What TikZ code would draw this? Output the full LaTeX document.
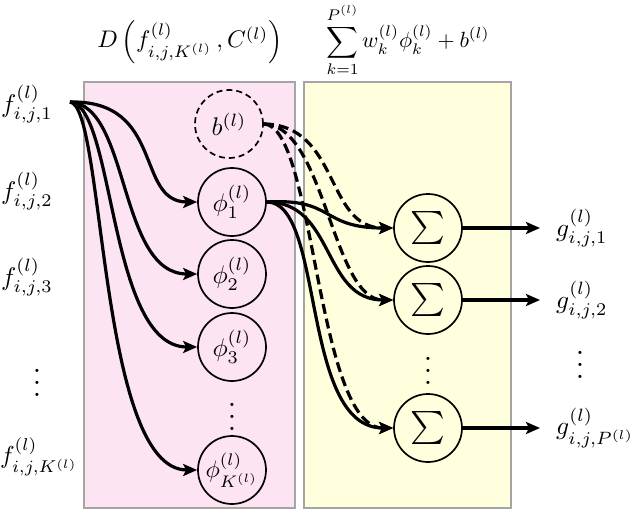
\documentclass[tikz,border=0pt]{standalone}
\usepackage{graphicx}
\usepackage{amsmath}
\usetikzlibrary{arrows.meta}
\definecolor{pinkbg}{RGB}{252,228,242}
\definecolor{yellowbg}{RGB}{255,255,221}
\definecolor{boxline}{RGB}{165,165,165}
\newcommand{\Lg}[1]{\scalebox{2.55}{$#1$}}
\newcommand{\Sg}{\scalebox{3.3}{$\sum$}}
\newcommand{\Dt}{\scalebox{3}{$\boldsymbol{\vdots}$}}
\begin{document}
\begin{tikzpicture}[x=1pt,y=-1pt,
  lbl/.style={inner sep=0pt},
  unit/.style={circle, draw, line width=1.7pt, minimum size=68pt, inner sep=0pt},
  panel/.style={draw=boxline, line width=2pt},
  conn/.style={line width=3.2pt, -{Stealth[length=14pt,width=12pt,inset=3pt]}},
  dconn/.style={conn, dash pattern=on 10pt off 5pt},
  dotsn/.style={inner sep=0pt}]
\useasboundingbox (0,0) rectangle (640,511);
% panels
\fill[pinkbg] (84,82) rectangle (295,508);
\draw[panel] (84,82) rectangle (295,508);
\fill[yellowbg] (304,82) rectangle (511,508);
\draw[panel] (304,82) rectangle (511,508);
% titles
\node[lbl] (tD) at (190,42) {\scalebox{2.4}{$D\left(f^{(l)}_{i,j,K^{(l)}}\,,C^{(l)}\right)$}};
\node[lbl] (tS) at (408,40) {\scalebox{2.2}{$\displaystyle\sum_{k=1}^{P^{(l)}} w_k^{(l)}\phi_k^{(l)}+b^{(l)}$}};
% inputs
\node[lbl] (f1) at (27,104) {\Lg{f^{(l)}_{i,j,1}}};
\node[lbl] (f2) at (27,191) {\Lg{f^{(l)}_{i,j,2}}};
\node[lbl] (f3) at (27,277) {\Lg{f^{(l)}_{i,j,3}}};
\node[dotsn] (fd) at (37,374) {\Dt};
\node[lbl] (fK) at (39,457) {\scalebox{2.45}{$f^{(l)}_{i,j,K^{(l)}}$}};
\coordinate (fs) at (70,102);
% units
\node[unit, dash pattern=on 6pt off 4pt] (b) at (229,124) {\Lg{b^{(l)}}};
\node[unit] (p1) at (232,202) {\Lg{\phi_1^{(l)}}};
\node[unit] (p2) at (232,274) {\Lg{\phi_2^{(l)}}};
\node[unit] (p3) at (232,347) {\Lg{\phi_3^{(l)}}};
\node[dotsn] (pd) at (232,408) {\Dt};
\node[unit] (pK) at (232,470) {\scalebox{2.4}{$\phi_{K^{(l)}}^{(l)}$}};
% sums
\node[unit] (s1) at (428,228) {\Sg};
\node[unit] (s2) at (428,300) {\Sg};
\node[dotsn] (sd) at (428,362) {\Dt};
\node[unit] (s3) at (428,428) {\Sg};
% outputs
\node[lbl, anchor=west] (g1) at (556,228) {\Lg{g^{(l)}_{i,j,1}}};
\node[lbl, anchor=west] (g2) at (556,300) {\Lg{g^{(l)}_{i,j,2}}};
\node[dotsn] (gd) at (580,356) {\Dt};
\node[lbl, anchor=west] (g3) at (556,428) {\Lg{g^{(l)}_{i,j,P^{(l)}}}};
% input connectors
\draw[conn] (fs) .. controls (165,100) and (135,202) .. (p1.west);
\draw[conn] (fs) .. controls (130,105) and (118,274) .. (p2.west);
\draw[conn] (fs) .. controls (115,105) and (108,347) .. (p3.west);
\draw[conn] (fs) .. controls (105,105) and (98,470) .. (pK.west);
% bias dashed connectors
\draw[dconn] (b.east) .. controls (340,125) and (325,228) .. (s1.west);
\draw[dconn] (b.east) .. controls (325,125) and (332,300) .. (s2.west);
\draw[dconn] (b.east) .. controls (315,125) and (316,428) .. (s3.west);
% phi1 connectors
\draw[conn] (p1.east) .. controls (335,198) and (320,228) .. (s1.west);
\draw[conn] (p1.east) .. controls (335,202) and (322,300) .. (s2.west);
\draw[conn] (p1.east) .. controls (325,202) and (300,428) .. (s3.west);
% output connectors
\draw[conn] (s1.east) -- (g1.west -| 540,0);
\draw[conn] (s2.east) -- (g2.west -| 540,0);
\draw[conn] (s3.east) -- (g3.west -| 540,0);
\end{tikzpicture}
\end{document}
